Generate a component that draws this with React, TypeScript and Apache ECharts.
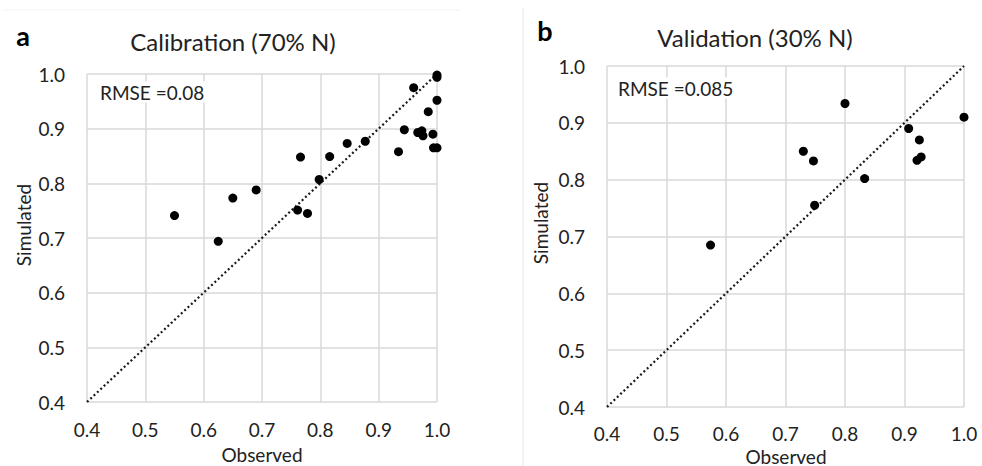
import React, { useEffect, useRef } from "react";
import * as echarts from "echarts";

// Calibration panel (a): observed vs simulated
const calObserved = [1.0, 1.0, 0.96, 1.0, 0.985, 0.944, 0.967, 0.974, 0.976, 0.993, 0.994, 1.0, 0.934, 0.877, 0.846, 0.816, 0.766, 0.798, 0.69, 0.65, 0.55, 0.625, 0.761, 0.778];
const calSimulated = [0.998, 0.994, 0.975, 0.952, 0.931, 0.898, 0.893, 0.896, 0.887, 0.89, 0.865, 0.865, 0.858, 0.877, 0.873, 0.849, 0.848, 0.807, 0.788, 0.773, 0.741, 0.694, 0.751, 0.745];

// Validation panel (b)
const valObserved = [0.8, 1.0, 0.907, 0.925, 0.928, 0.921, 0.73, 0.747, 0.833, 0.749, 0.574];
const valSimulated = [0.934, 0.91, 0.89, 0.87, 0.84, 0.834, 0.85, 0.833, 0.802, 0.755, 0.685];

// 1:1 line endpoints
const oneToOne = [0.4, 1.0];

// axis range / ticks
const axisMin = 0.4;
const axisMax = 1.0;
const axisStep = 0.1;

const titles = ["Calibration (70% N)", "Validation (30% N)"];
const rmseLabels = ["RMSE =0.08", "RMSE =0.085"];
const panelLetters = ["a", "b"];
const xName = "Observed";
const yName = "Simulated";

const FONT = "Lato, 'Liberation Sans', sans-serif";
const TEXT = "#222";
const GRID = "#d9d9d9";

export default function App() {
  const ref = useRef<HTMLDivElement>(null);
  useEffect(() => {
    if (!ref.current) return;
    const chart = echarts.init(ref.current, null, { renderer: "svg" });

    const grids = [
      { left: 87, top: 74, width: 350, height: 328 },
      { left: 607, top: 66, width: 357, height: 341 },
    ];

    const axisCommon = {
      type: "value" as const,
      min: axisMin,
      max: axisMax,
      interval: axisStep,
      axisLine: { show: false },
      axisTick: { show: false },
      splitLine: { show: true, lineStyle: { color: GRID, width: 1.5 } },
      axisLabel: {
        color: TEXT,
        fontFamily: FONT,
        fontSize: 19,
        lineHeight: 19,
        formatter: (v: number) => v.toFixed(1),
      },
    };

    const xAxes = grids.map((_, i) => ({
      ...axisCommon,
      gridIndex: i,
      axisLabel: { ...axisCommon.axisLabel, margin: i === 0 ? 18 : 17 },
    }));
    const yAxes = grids.map((_, i) => ({
      ...axisCommon,
      gridIndex: i,
      axisLabel: { ...axisCommon.axisLabel, margin: 22 },
    }));

    const obs = [calObserved, valObserved];
    const sim = [calSimulated, valSimulated];

    const series: any[] = [];
    grids.forEach((_, i) => {
      series.push({
        type: "line",
        xAxisIndex: i,
        yAxisIndex: i,
        data: oneToOne.map((v) => [v, v]),
        symbol: "none",
        silent: true,
        lineStyle: { color: "#1a1a1a", width: 2.2, type: [2, 2.6] },
        z: 2,
      });
      series.push({
        type: "scatter",
        xAxisIndex: i,
        yAxisIndex: i,
        data: obs[i].map((x, k) => [x, sim[i][k]]),
        symbol: "circle",
        symbolSize: 9,
        clip: false,
        itemStyle: { color: "#000", opacity: 1 },
        z: 3,
      });
    });

    const textStyle = (s: number, w: string = "normal") => ({
      fill: TEXT,
      fontFamily: FONT,
      fontSize: s,
      fontWeight: w,
    });

    const graphic: any[] = [
      { type: "line", shape: { x1: 523, y1: 8, x2: 523, y2: 466 }, style: { stroke: "#e6e6e6", lineWidth: 1 }, silent: true },
      { type: "line", shape: { x1: 5, y1: 10, x2: 460, y2: 10 }, style: { stroke: "#f3f3f3", lineWidth: 1 }, silent: true },
      { type: "text", x: 23, y: 35, style: { ...textStyle(27, "bold"), fill: "#000", text: panelLetters[0], align: "center", verticalAlign: "middle" } },
      { type: "text", x: 545, y: 30, style: { ...textStyle(27, "bold"), fill: "#000", text: panelLetters[1], align: "center", verticalAlign: "middle" } },
      { type: "text", x: 233, y: 41, style: { ...textStyle(24), text: titles[0], align: "center", verticalAlign: "middle" } },
      { type: "text", x: 755, y: 37, style: { ...textStyle(24), text: titles[1], align: "center", verticalAlign: "middle" } },
      { type: "text", x: 98, y: 92, z: 100, style: { ...textStyle(19), text: rmseLabels[0], align: "left", verticalAlign: "middle", backgroundColor: "#fff", padding: [1, 2] } },
      { type: "text", x: 616, y: 88, z: 100, style: { ...textStyle(19), text: rmseLabels[1], align: "left", verticalAlign: "middle", backgroundColor: "#fff", padding: [1, 2] } },
      { type: "text", x: 262, y: 454, style: { ...textStyle(19), text: xName, align: "center", verticalAlign: "middle" } },
      { type: "text", x: 786, y: 456, style: { ...textStyle(19), text: xName, align: "center", verticalAlign: "middle" } },
      { type: "text", x: 23, y: 225, rotation: Math.PI / 2, style: { ...textStyle(19), text: yName, align: "center", verticalAlign: "middle" } },
      { type: "text", x: 540, y: 223, rotation: Math.PI / 2, style: { ...textStyle(19), text: yName, align: "center", verticalAlign: "middle" } },
    ];

    chart.setOption({
      animation: false,
      backgroundColor: "#fff",
      grid: grids.map((g) => ({ ...g, containLabel: false })),
      xAxis: xAxes,
      yAxis: yAxes,
      series,
      graphic,
    });
    return () => chart.dispose();
  }, []);

  return (
    <div
      ref={ref}
      style={{ position: "fixed", left: 0, top: 0, width: 982, height: 466 }}
    />
  );
}
